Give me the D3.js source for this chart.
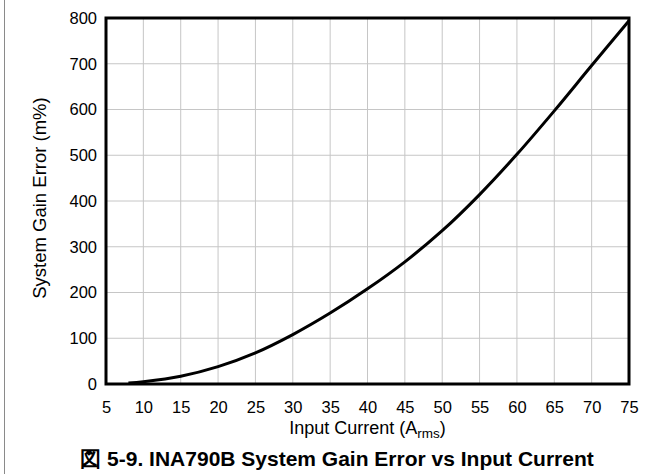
<!DOCTYPE html>
<html>
<head>
<meta charset="utf-8">
<script src="https://cdn.jsdelivr.net/npm/d3@7"></script>
<style>
  html,body{margin:0;padding:0;background:#fff;}
  svg{display:block;font-family:"Liberation Sans", Arial, sans-serif;}
</style>
</head>
<body>
<svg id="chart" width="662" height="474"></svg>
<script>
// gain error curve
const currentA = [8, 10, 15, 20, 25, 30, 35, 40, 45, 50, 55, 60, 65, 70, 75];
const gainErr  = [2, 5, 17, 38, 68, 108, 155, 208, 267, 335, 414, 502, 597, 696, 794];
const xTicks = d3.range(5, 76, 5);
const yTicks = d3.range(0, 801, 100);

const W=662, H=474;
const M={left:106, right:629, top:18, bottom:384};

const svg=d3.select("#chart");

const x=d3.scaleLinear().domain([5,75]).range([M.left,M.right]);
const y=d3.scaleLinear().domain([0,800]).range([M.bottom,M.top]);

// page border on left
svg.append("line").attr("x1",4.5).attr("x2",4.5).attr("y1",0).attr("y2",H)
  .attr("stroke","#8a8a8a").attr("stroke-width",1);

// grid
svg.append("g").selectAll("line.gx").data(xTicks.slice(1,-1)).join("line")
  .attr("x1",d=>x(d)).attr("x2",d=>x(d)).attr("y1",M.top).attr("y2",M.bottom)
  .attr("stroke","#c6c6c6").attr("stroke-width",1);
svg.append("g").selectAll("line.gy").data(yTicks.slice(1,-1)).join("line")
  .attr("x1",M.left).attr("x2",M.right).attr("y1",d=>y(d)).attr("y2",d=>y(d))
  .attr("stroke","#c6c6c6").attr("stroke-width",1);

// x axis labels
svg.append("g").attr("transform",`translate(0,${M.bottom})`)
  .call(d3.axisBottom(x).tickValues(xTicks).tickSize(0).tickPadding(17))
  .call(a=>a.select(".domain").remove())
  .call(a=>a.selectAll("text").attr("fill","#000")
    .style("font-size","16.5px").style("font-family","'Liberation Sans', Arial, sans-serif"));

// y axis labels
svg.append("g").attr("transform",`translate(${M.left},0)`)
  .call(d3.axisLeft(y).tickValues(yTicks).tickSize(0).tickPadding(9))
  .call(a=>a.select(".domain").remove())
  .call(a=>a.selectAll("text").attr("fill","#000")
    .style("font-size","16.5px").style("font-family","'Liberation Sans', Arial, sans-serif"));

// curve
const line=d3.line().x((d,i)=>x(currentA[i])).y(d=>y(d)).curve(d3.curveCatmullRom.alpha(0.5));
svg.append("path").datum(gainErr).attr("d",line)
  .attr("fill","none").attr("stroke","#000").attr("stroke-width",3);

// frame
svg.append("rect").attr("x",M.left).attr("y",M.top)
  .attr("width",M.right-M.left).attr("height",M.bottom-M.top)
  .attr("fill","none").attr("stroke","#000").attr("stroke-width",3);

// axis titles
const xt=svg.append("text").attr("x",(M.left+M.right)/2).attr("y",434)
  .attr("text-anchor","middle").attr("fill","#000").style("font-size","18px");
xt.append("tspan").text("Input Current (A");
xt.append("tspan").attr("dy",4).style("font-size","13.5px").text("rms");
xt.append("tspan").attr("dy",-4).text(")");

svg.append("text").attr("transform",`translate(46,${(M.top+M.bottom)/2-3}) rotate(-90)`)
  .attr("text-anchor","middle").attr("fill","#000").style("font-size","18.5px")
  .text("System Gain Error (m%)");

// caption
svg.append("text").attr("x",337).attr("y",466)
  .attr("text-anchor","middle").attr("fill","#000")
  .style("font-size","21px").style("font-weight","bold")
  .text("図 5-9. INA790B System Gain Error vs Input Current");
</script>
</body>
</html>
